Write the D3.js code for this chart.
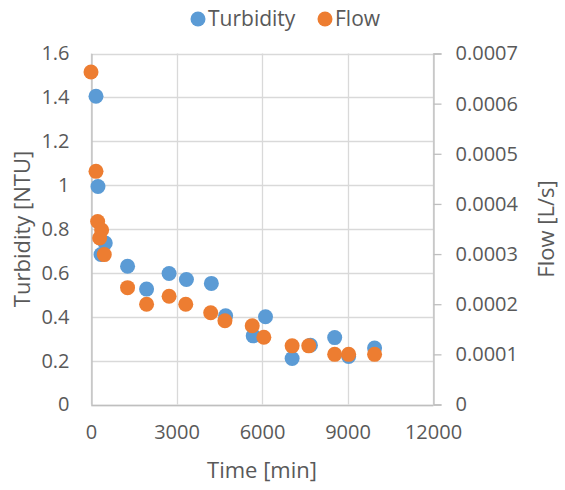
<!DOCTYPE html>
<html>
<head>
<meta charset="utf-8">
<script src="https://cdn.jsdelivr.net/npm/d3@7"></script>
<style>
  html, body { margin: 0; padding: 0; background: #fff; }
  svg { display: block; }
  text { font-family: "Open Sans", sans-serif; fill: #595959; }
</style>
</head>
<body>
<svg id="chart" width="565" height="490"></svg>
<script>
// ---- data ----
const turbTime  = [175, 245, 500, 350, 1283, 1950, 2740, 3348, 4223, 4724, 5692, 6123, 7057, 7700, 8550, 9040, 9950];
const turbidity = [1.405, 0.994, 0.736, 0.684, 0.63, 0.526, 0.597, 0.570, 0.552, 0.404, 0.313, 0.40, 0.21, 0.27, 0.305, 0.219, 0.257];
const flowTime  = [0, 175, 233, 373, 303, 466, 1283, 1950, 2740, 3325, 4200, 4700, 5657, 6065, 7057, 7640, 8550, 9040, 9950];
const flow      = [0.000663, 0.000465, 0.000365, 0.000348, 0.000332, 0.000299, 0.000233, 0.0002, 0.000216, 0.0002, 0.000183, 0.000167, 0.000157, 0.000134, 0.000117, 0.000117, 0.0001, 0.0001, 0.0001];
const xTicks = [0, 3000, 6000, 9000, 12000];
const yLeftTicks = [0, 0.2, 0.4, 0.6, 0.8, 1, 1.2, 1.4, 1.6];
const yRightTicks = [0, 0.0001, 0.0002, 0.0003, 0.0004, 0.0005, 0.0006, 0.0007];
const seriesNames = ["Turbidity", "Flow"];
const colors = ["#5B9BD5", "#ED7D31"];

// ---- layout ----
const L = 91, R = 433, T = 53.5, B = 404.5;
const x = d3.scaleLinear().domain([0, 12000]).range([L, R]);
const yL = d3.scaleLinear().domain([0, 1.6]).range([B, T]);
const yR = d3.scaleLinear().domain([0, 0.0007]).range([B, T]);

const svg = d3.select("#chart");
const grid = "#D9D9D9";
const fs = 20;

// horizontal gridlines
svg.append("g").selectAll("line").data(yLeftTicks).join("line")
  .attr("x1", L).attr("x2", R)
  .attr("y1", d => Math.round(yL(d)) + 0.5).attr("y2", d => Math.round(yL(d)) + 0.5)
  .attr("stroke", grid).attr("stroke-width", 1.3);
// vertical gridlines
svg.append("g").selectAll("line").data(xTicks).join("line")
  .attr("x1", d => Math.round(x(d)) + 0.5).attr("x2", d => Math.round(x(d)) + 0.5)
  .attr("y1", T).attr("y2", B)
  .attr("stroke", grid).attr("stroke-width", 1.3);

// axes
const axL = d3.axisLeft(yL).tickValues(yLeftTicks).tickSize(0).tickPadding(22).tickFormat(d3.format("~g"));
const gL = svg.append("g").attr("transform", `translate(${L + 0.5},0)`).call(axL);
gL.select(".domain").attr("stroke", "#BFBFBF").attr("stroke-width", 1.3);
gL.selectAll("text").style("font-size", fs + "px").attr("fill", "#595959").style("font-family", "Open Sans");

const axR = d3.axisRight(yR).tickValues(yRightTicks).tickSize(8).tickPadding(14).tickFormat(d => d === 0 ? "0" : d3.format(".4f")(d));
const gR = svg.append("g").attr("transform", `translate(${R + 0.5},0)`).call(axR);
gR.select(".domain").attr("stroke", "#BFBFBF").attr("stroke-width", 1.3);
gR.selectAll("line").attr("stroke", "#BFBFBF").attr("stroke-width", 1.3);
gR.selectAll("text").style("font-size", fs + "px").attr("fill", "#595959").style("font-family", "Open Sans");

const axB = d3.axisBottom(x).tickValues(xTicks).tickSize(0).tickPadding(20).tickFormat(d3.format("d"));
const gB = svg.append("g").attr("transform", `translate(0,${B + 0.5})`).call(axB);
gB.select(".domain").attr("stroke", "#BFBFBF").attr("stroke-width", 1.3);
gB.selectAll("text").style("font-size", fs + "px").attr("fill", "#595959").style("font-family", "Open Sans");

// points
const r = 7.5;
svg.append("g").selectAll("circle").data(turbTime.map((t, i) => [t, turbidity[i]])).join("circle")
  .attr("cx", d => x(d[0])).attr("cy", d => yL(d[1])).attr("r", r).attr("fill", colors[0]);
svg.append("g").selectAll("circle").data(flowTime.map((t, i) => [t, flow[i]])).join("circle")
  .attr("cx", d => x(d[0])).attr("cy", d => yR(d[1])).attr("r", r).attr("fill", colors[1]);

// axis titles
svg.append("text").attr("transform", `translate(30,${(T + B) / 2}) rotate(-90)`)
  .attr("text-anchor", "middle").style("font-size", "22px").text("Turbidity [NTU]");
svg.append("text").attr("transform", `translate(554,${(T + B) / 2}) rotate(-90)`)
  .attr("text-anchor", "middle").style("font-size", "22px").text("Flow [L/s]");
svg.append("text").attr("x", (L + R) / 2).attr("y", 478)
  .attr("text-anchor", "middle").style("font-size", "22px").text("Time [min]");

// legend
const leg = svg.append("g");
const legX = [198, 325];
seriesNames.forEach((n, i) => {
  leg.append("circle").attr("cx", legX[i]).attr("cy", 19).attr("r", 7.5).attr("fill", colors[i]);
  leg.append("text").attr("x", legX[i] + 10).attr("y", 26).style("font-size", "21px").text(n);
});
</script>
</body>
</html>
